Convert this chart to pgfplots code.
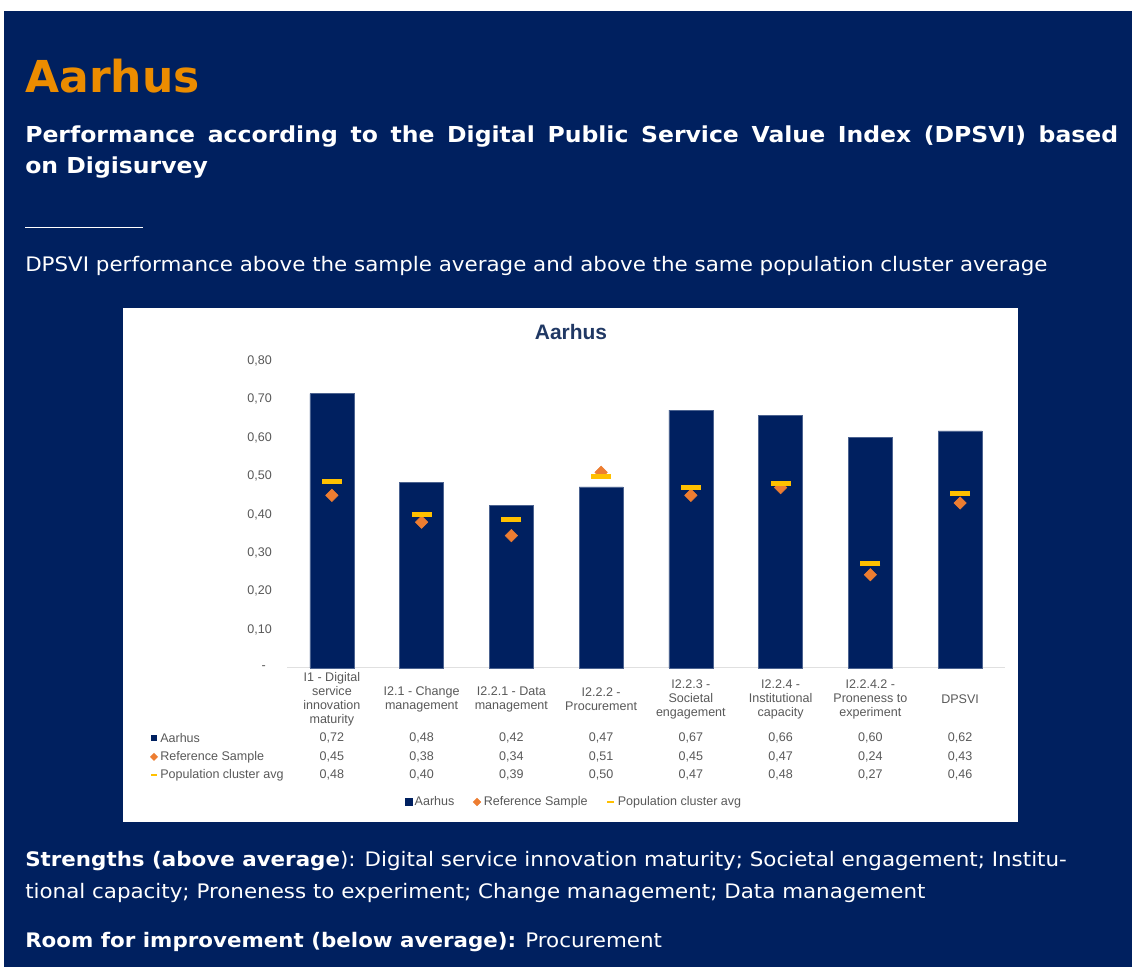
\documentclass[border=0pt]{standalone}
\usepackage{pgfplots}
\pgfplotsset{compat=1.18}
\usepackage{pgfplotstable}
\usepackage{fontspec}
\setmainfont{DejaVu Sans}[FakeStretch=1.07]
\newfontfamily\plainfont{DejaVu Sans}
\newfontfamily\arial{Liberation Sans}

\definecolor{pagebg}{HTML}{00205F}
\definecolor{titleor}{HTML}{EB8C00}
\definecolor{barblue}{HTML}{002060}
\definecolor{refor}{HTML}{ED7D31}
\definecolor{popyel}{HTML}{FFC000}
\definecolor{lblgray}{HTML}{595959}
\definecolor{ctitle}{HTML}{203864}

% DPSVI scores, Aarhus vs reference sample vs population cluster
\pgfplotstableread{
idx aarhus ref  pop
0   0.715  0.45 0.485
1   0.483  0.38 0.40
2   0.423  0.345 0.387
3   0.472  0.51 0.50
4   0.672  0.45 0.47
5   0.658  0.47 0.482
6   0.60   0.243 0.273
7   0.618  0.43 0.456
}\dpsvi

\newcommand{\chartfont}{\arial\fontsize{9.4}{10.5}\selectfont}

\begin{document}
\begin{tikzpicture}
\begin{scope}[x=0.75pt, y=0.75pt]
% page background
\fill[white] (0,0) rectangle (1132,967);
\fill[pagebg] (4,0) rectangle (1132,956);

\node[anchor=base west, inner sep=0, text=titleor,
      font=\plainfont\fontsize{33}{38}\selectfont\bfseries] at (25,{967-93}) {Aarhus};
\node[anchor=base west, inner sep=0, text=white] at (25,{967-143})
  {\parbox[t]{819.75pt}{\fontsize{16.5}{23.25}\selectfont\bfseries
   Performance according to the Digital Public Service Value Index (DPSVI) based\linebreak
   on Digisurvey}};
\draw[white, line width=0.75pt] (25,{967-228}) -- (143,{967-228});
\node[anchor=base west, inner sep=0, text=white, font=\fontsize{15}{18}\selectfont]
  at (25,{967-272}) {DPSVI performance above the sample average and above the same population cluster average};

% chart area
\fill[white] (123,{967-822}) rectangle (1018,{967-308});
\node[anchor=base, inner sep=0, text=ctitle, font=\arial\fontsize{15.7}{18}\selectfont\bfseries]
  at (571,{967-340}) {Aarhus};
\end{scope}

\begin{axis}[
  at={(215.25pt,224.25pt)}, anchor=south west,
  scale only axis, width=538.5pt, height=230.25pt,
  xmin=-0.5, xmax=7.5, ymin=0, ymax=0.8,
  axis lines*=left,
  x axis line style={draw=black!12, line width=0.75pt, -},
  y axis line style={draw=none},
  tick style={draw=none},
  ytick={0,0.1,0.2,0.3,0.4,0.5,0.6,0.7,0.8},
  yticklabels={{-\hspace*{4.5pt}},{0,10},{0,20},{0,30},{0,40},{0,50},{0,60},{0,70},{0,80}},
  yticklabel style={font=\chartfont, text=lblgray, anchor=east, inner sep=0pt, xshift=-11.25pt},
  xtick={0,1,2,3,4,5,6,7},
  xticklabels={
    {I1 - Digital\\service\\innovation\\maturity},
    {I2.1 - Change\\management},
    {I2.2.1 - Data\\management},
    {I2.2.2 -\\Procurement},
    {I2.2.3 -\\Societal\\engagement},
    {I2.2.4 -\\Institutional\\capacity},
    {I2.2.4.2 -\\Proneness to\\experiment},
    {DPSVI}},
  xticklabel style={font=\chartfont, text=lblgray, align=center, anchor=center,
                    inner sep=0pt, yshift=-23.25pt},
  clip=false,
  legend columns=3,
  legend style={at={(0.40,-0.4365)}, anchor=center, draw=none, fill=none,
                font=\chartfont, text=lblgray, inner sep=0pt,
                /tikz/every even column/.append style={column sep=12pt}},
  legend cell align=left,
]
\addplot[ybar, bar width=33pt, fill=barblue, draw=barblue!70!white, line width=0.4pt,
  legend image code/.code={\fill[barblue] (0pt,-2.6pt) rectangle (5.2pt,2.6pt);}]
  table[x=idx, y=aarhus] {\dpsvi};
\addplot[only marks, mark=square*, mark size=3.3pt,
  mark options={rotate=45, fill=refor, draw=refor},
  legend image code/.code={\fill[refor] (2.6pt,-2.8pt) -- (5.4pt,0pt) -- (2.6pt,2.8pt) -- (-0.2pt,0pt) -- cycle;}]
  table[x=idx, y=ref] {\dpsvi};
\addplot[only marks, mark=-, mark size=7.5pt,
  mark options={draw=popyel, line width=3.75pt},
  legend image code/.code={\draw[popyel, line width=1.5pt] (0pt,0pt) -- (5.2pt,0pt);}]
  table[x=idx, y=pop] {\dpsvi};
\legend{Aarhus, Reference Sample, Population cluster avg}
\end{axis}

\begin{scope}[x=0.75pt, y=0.75pt]
% data table under the chart
\foreach \i/\a/\b/\c in {0/{0,72}/{0,45}/{0,48}, 1/{0,48}/{0,38}/{0,40}, 2/{0,42}/{0,34}/{0,39},
    3/{0,47}/{0,51}/{0,50}, 4/{0,67}/{0,45}/{0,47}, 5/{0,66}/{0,47}/{0,48},
    6/{0,60}/{0,24}/{0,27}, 7/{0,62}/{0,43}/{0,46}} {
  \node[font=\chartfont, text=lblgray, inner sep=0] at ({287+89.75*(\i+0.5)},{967-738}) {\a};
  \node[font=\chartfont, text=lblgray, inner sep=0] at ({287+89.75*(\i+0.5)},{967-757}) {\b};
  \node[font=\chartfont, text=lblgray, inner sep=0] at ({287+89.75*(\i+0.5)},{967-775}) {\c};
}
\fill[barblue] (151,{967-741}) rectangle (157,{967-735});
\fill[refor] (154,{967-761}) -- (158,{967-757}) -- (154,{967-753}) -- (150,{967-757}) -- cycle;
\draw[popyel, line width=1.5pt] (151,{967-775}) -- (157,{967-775});
\node[anchor=west, font=\chartfont, text=lblgray, inner sep=0] at (160,{967-738}) {Aarhus};
\node[anchor=west, font=\chartfont, text=lblgray, inner sep=0] at (160,{967-757}) {Reference Sample};
\node[anchor=west, font=\chartfont, text=lblgray, inner sep=0] at (160,{967-775}) {Population cluster avg};

% commentary
\node[anchor=base west, inner sep=0, text=white] at (25,{967-867})
  {\parbox[t]{819.75pt}{\raggedright\fontsize{15}{24}\selectfont
   \textbf{Strengths (above average}): Digital service innovation maturity; Societal engagement; Institu-\linebreak
   tional capacity; Proneness to experiment; Change management; Data management}};
\node[anchor=base west, inner sep=0, text=white, font=\fontsize{15}{18}\selectfont]
  at (25,{967-948}) {\textbf{Room for improvement (below average):} Procurement};
\end{scope}
\end{tikzpicture}
\end{document}
